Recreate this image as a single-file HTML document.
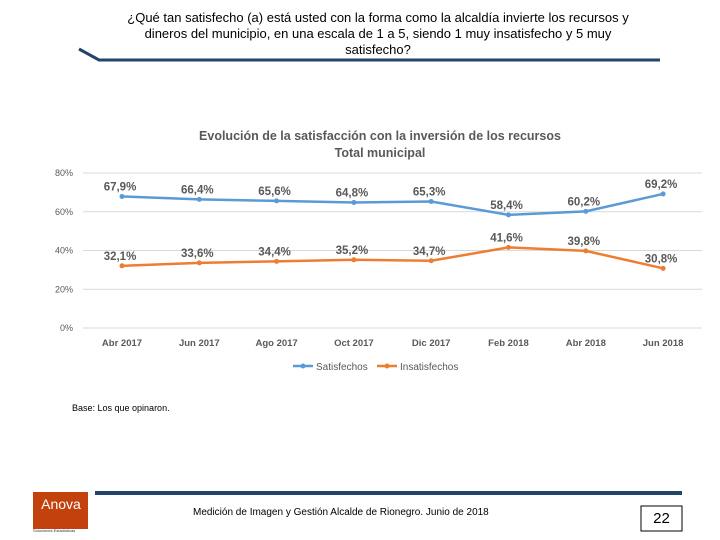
<!DOCTYPE html>
<html><head><meta charset="utf-8"><style>
body{margin:0;width:720px;height:540px;background:#fff;position:relative;overflow:hidden;font-family:"Liberation Sans",sans-serif}
.abs{position:absolute}
</style></head><body>
<div class="abs" style="left:125px;top:10px;width:506px;text-align:center;font-size:13px;line-height:16px;color:#000">¿Qué tan satisfecho (a) está usted con la forma como la alcaldía invierte los recursos y dineros del municipio, en una escala de 1 a 5, siendo 1 muy insatisfecho y 5 muy satisfecho?</div>
<svg class="abs" style="left:0;top:0" width="720" height="540">
<polyline points="79,49 99,60 660,60" fill="none" stroke="#24456b" stroke-width="3"/>
<rect x="95" y="491" width="587" height="4" fill="#24456b"/>
<rect x="33" y="492" width="55" height="37" fill="#c2410c"/>
<rect x="641" y="506" width="41" height="25" fill="#fff" stroke="#000"/>
</svg>
<div class="abs" style="left:35px;top:496px;width:52px;text-align:center;color:#fff;font-size:14px">Anova</div>
<div class="abs" style="left:33px;top:528px;font-size:4px;color:#333">Soluciones Estadísticas</div>
<div class="abs" style="left:641px;top:510px;width:41px;text-align:center;font-size:15px">22</div>
<div class="abs" style="left:193px;top:507px;font-size:10px;color:#000">Medición de Imagen y Gestión Alcalde de Rionegro. Junio de 2018</div>
<div class="abs" style="left:72px;top:403px;font-size:9px;color:#000">Base: Los que opinaron.</div>
<svg id="chart" class="abs" style="left:0;top:0" width="720" height="540"></svg>
<script>
const categories=["Abr 2017","Jun 2017","Ago 2017","Oct 2017","Dic 2017","Feb 2018","Abr 2018","Jun 2018"];
const satisfechos=[67.9,66.4,65.6,64.8,65.3,58.4,60.2,69.2];
const insatisfechos=[32.1,33.6,34.4,35.2,34.7,41.6,39.8,30.8];
const yTicks=[0,20,40,60,80];
const svg=document.getElementById('chart');
const NS='http://www.w3.org/2000/svg';
const x=i=>122+i*77.3;
const y=v=>328-v*1.9375;
function el(t,a,txt){const e=document.createElementNS(NS,t);for(const k in a)e.setAttribute(k,a[k]);if(txt!=null)e.textContent=txt;svg.appendChild(e);return e;}
let e=el('text',{x:380,y:140,'text-anchor':'middle','font-size':12.5,'font-weight':'bold',fill:'#595959'},'Evolución de la satisfacción con la inversión de los recursos');

e=el('text',{x:380,y:157,'text-anchor':'middle','font-size':12.5,'font-weight':'bold',fill:'#595959'},'Total municipal');

yTicks.forEach(t=>{
 let g=el('line',{x1:83,x2:702,y1:y(t),y2:y(t),stroke:'#d9d9d9'});
 
 let l=el('text',{x:73,y:y(t)+3,'text-anchor':'end','font-size':9,fill:'#595959'},t+'%');
 
});
categories.forEach((c,i)=>{
 let l=el('text',{x:x(i),y:346,'text-anchor':'middle','font-size':9.5,'font-weight':'bold',fill:'#595959'},c);
 
});
function series(vals,color,name){
 let p=el('polyline',{points:vals.map((v,i)=>x(i)+','+y(v)).join(' '),fill:'none',stroke:color,'stroke-width':2.5});
 
 vals.forEach((v,i)=>{
  let c=el('circle',{cx:x(i),cy:y(v),r:2.5,fill:color});
  
  let t=el('text',{x:x(i)-2,y:y(v)-6,'text-anchor':'middle','font-size':11.5,'font-weight':'bold',fill:'#595959'},v.toFixed(1).replace('.',',')+'%');
  
 });
}
series(satisfechos,'#5b9bd5','satisfechos');
series(insatisfechos,'#ed7d31','insatisfechos');
[['Satisfechos','#5b9bd5',293],['Insatisfechos','#ed7d31',377]].forEach(([n,c,lx])=>{
 let l=el('line',{x1:lx,x2:lx+20,y1:366,y2:366,stroke:c,'stroke-width':2.5});
 
 let d=el('circle',{cx:lx+10,cy:366,r:2.5,fill:c});
 
 let t=el('text',{x:lx+23,y:370,'font-size':10,fill:'#595959'},n);
 
});
</script>
</body></html>
